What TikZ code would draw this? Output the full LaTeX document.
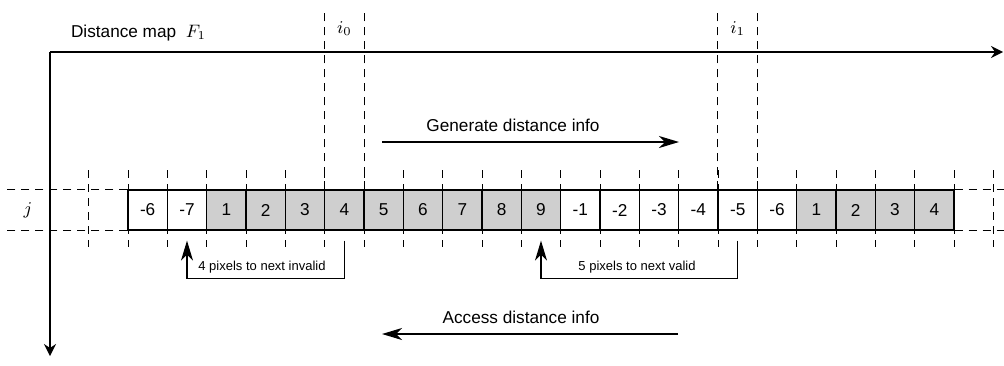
\documentclass[tikz,border=0pt]{standalone}
\usepackage{fontspec}
\setmainfont{Liberation Sans}
\usetikzlibrary{arrows.meta}

\tikzset{
	cell/.style={draw, line width=0.6pt, minimum width=19.67pt, minimum height=20pt, inner sep=0pt, font=\fontsize{8.6}{10}\selectfont},
	valid/.style={cell, fill=black!19},
	guide/.style={line width=0.5pt, dash pattern=on 4pt off 3pt},
	axis/.style={line width=0.8pt, -{Stealth[length=6pt,width=6pt,inset=2pt]}},
	flow/.style={line width=0.7pt, -{Stealth[length=10pt,width=6pt,inset=3pt]}},
	bracket/.style={line width=0.6pt, -{Stealth[length=10pt,width=6pt,inset=3pt]}},
	infotext/.style={font=\fontsize{8.6}{10}\selectfont},
	notetext/.style={font=\fontsize{6.5}{8}\selectfont}
}

\begin{document}
\begin{tikzpicture}[x=0.5pt, y=-0.5pt]

	\useasboundingbox (0,0) rectangle (1004,365);

	% Pixel grid guides (behind the row)
	\foreach \k in {-1,...,22}
		\draw [guide] (128+39.333*\k,170)--(128+39.333*\k,247);

	% Row of the distance map
	\foreach \v/\s [count=\k] in {-6/cell,-7/cell,1/valid,2/valid,3/valid,4/valid,5/valid,6/valid,7/valid,8/valid,9/valid,-1/cell,-2/cell,-3/cell,-4/cell,-5/cell,-6/cell,1/valid,2/valid,3/valid,4/valid}
		\node [\s] (c\k) at (108.33+39.333*\k,210) {\v};

	\draw [guide] (c1.north west)--++(-120,0);
	\draw [guide] (c1.south west)--++(-120,0);
	\draw [guide] (c21.north east)--++(50,0);
	\draw [guide] (c21.south east)--++(50,0);
	\node [infotext] (j) at (28,210) {$j$};

	% Columns i0 and i1
	\draw [guide] (c6.north west)--++(0,-178);
	\draw [guide] (c6.north east)--++(0,-178);
	\draw [guide] (c16.north west)--++(0,-178);
	\draw [guide] (c16.north east)--++(0,-178);
	\node [infotext] (i0) at (c6.center |- 0,29) {$i_0$};
	\node [infotext] (i1) at (c16.center |- 0,29) {$i_1$};

	% Axes
	\coordinate (O) at (50,52);
	\draw [axis] (O)--(1003,52);
	\draw [axis] (O)--(50,356);
	\node [infotext, right] (title) at (64,33) {Distance map \ $F_1$};

	% Generate / access directions
	\coordinate (g1) at (382,142);
	\coordinate (g2) at (679,142);
	\draw [flow] (g1)--(g2);
	\node [infotext] (gen) at (513,125) {Generate distance info};

	\coordinate (a1) at (678,334);
	\coordinate (a2) at (382,334);
	\draw [flow] (a1)--(a2);
	\node [infotext] (acc) at (521,317) {Access distance info};

	% Skip distances
	\draw [bracket] ([yshift=-5pt]c6.south)--++(0,38)-|([yshift=-5pt]c2.south);
	\node [notetext] (n1) at (262,267) {4 pixels to next invalid};
	\draw [bracket] ([yshift=-5pt]c16.south)--++(0,38)-|([yshift=-5pt]c11.south);
	\node [notetext] (n2) at (637,267) {5 pixels to next valid};

\end{tikzpicture}
\end{document}
